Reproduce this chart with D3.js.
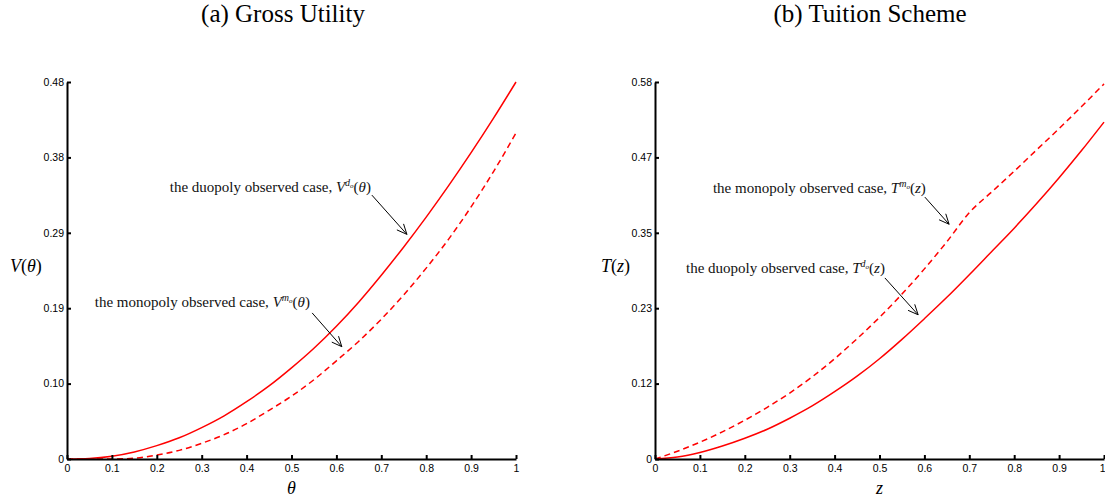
<!DOCTYPE html>
<html>
<head>
<meta charset="utf-8">
<script src="https://cdn.jsdelivr.net/npm/d3@7"></script>
<style>
  body { margin: 0; background: #fff; }
  svg { display: block; }
  .tick text { font-family: "Liberation Sans", Arial, sans-serif; font-size: 10.5px; fill: #000; }
  .domain, .tick line { stroke: #000; stroke-width: 2; }
</style>
</head>
<body>
<svg id="chart" width="1105" height="501"></svg>
<script>
// grid shared by every curve
const grid = [0, 0.05, 0.1, 0.15, 0.2, 0.25, 0.3, 0.35, 0.4, 0.45, 0.5,
              0.55, 0.6, 0.65, 0.7, 0.75, 0.8, 0.85, 0.9, 0.95, 1];

// (a) gross utility
const vDuopoly   = [0, 0.0007, 0.0035, 0.009, 0.017, 0.027, 0.040, 0.055, 0.073, 0.093, 0.116,
                    0.141, 0.169, 0.200, 0.234, 0.270, 0.308, 0.348, 0.390, 0.434, 0.480];
const vMonopoly  = [0, 0, 0, 0.001, 0.005, 0.011, 0.020, 0.031, 0.045, 0.062, 0.080,
                    0.101, 0.125, 0.150, 0.178, 0.209, 0.243, 0.280, 0.321, 0.366, 0.415];

// (b) tuition scheme
const tDuopoly   = [0, 0.003, 0.010, 0.020, 0.032, 0.046, 0.063, 0.082, 0.104, 0.128, 0.155,
                    0.185, 0.217, 0.250, 0.285, 0.321, 0.357, 0.395, 0.435, 0.477, 0.521];
const tMonopoly  = [0, 0.012, 0.026, 0.042, 0.060, 0.080, 0.102, 0.127, 0.155, 0.186, 0.219,
                    0.255, 0.294, 0.336, 0.381, 0.413, 0.445, 0.478, 0.511, 0.545, 0.580];

const xTicks      = [0, 0.1, 0.2, 0.3, 0.4, 0.5, 0.6, 0.7, 0.8, 0.9, 1];
const xTickLabels = ["0", "0.1", "0.2", "0.3", "0.4", "0.5", "0.6", "0.7", "0.8", "0.9", "1"];
const vTicks      = [0, 0.096, 0.192, 0.288, 0.384, 0.48];
const vTickLabels = ["0", "0.10", "0.19", "0.29", "0.38", "0.48"];
const tTicks      = [0, 0.1166, 0.2332, 0.3498, 0.4664, 0.583];
const tTickLabels = ["0", "0.12", "0.23", "0.35", "0.47", "0.58"];

const svg = d3.select("#chart");
const serif = "'Liberation Serif', 'Times New Roman', serif";

function panel(opt) {
  const x = d3.scaleLinear().domain([0, 1]).range([opt.left, opt.right]);
  const y = d3.scaleLinear().domain([0, opt.yMax]).range([459, 82]);
  const g = svg.append("g");

  // title
  g.append("text")
    .attr("x", opt.titleX).attr("y", 22)
    .attr("text-anchor", "middle")
    .style("font-family", serif).style("font-size", "25px")
    .text(opt.title);

  // curves
  const line = d3.line().x(d => x(d[0])).y(d => y(d[1])).curve(d3.curveMonotoneX);
  g.append("path")
    .datum(grid.map((t, i) => [t, opt.solid[i]]))
    .attr("d", line)
    .style("fill", "none").style("stroke", "#f00").style("stroke-width", 1.5);
  g.append("path")
    .datum(grid.map((t, i) => [t, opt.dashed[i]]))
    .attr("d", line)
    .style("fill", "none").style("stroke", "#f00").style("stroke-width", 1.5)
    .style("stroke-dasharray", "6,4");

  // axes (ticks pointing inward, matlab style)
  const xa = g.append("g")
    .attr("transform", "translate(0,459)")
    .call(d3.axisBottom(x).tickValues(xTicks)
      .tickFormat((d, i) => xTickLabels[i])
      .tickSizeInner(-4).tickSizeOuter(0).tickPadding(6));
  if (opt.right > 1100) {
    // keep the last label inside the page
    xa.selectAll(".tick:last-of-type text").attr("text-anchor", "end").attr("x", 1);
  }
  g.append("g")
    .attr("transform", "translate(" + opt.left + ",0)")
    .call(d3.axisLeft(y).tickValues(opt.yTicks)
      .tickFormat((d, i) => opt.yTickLabels[i])
      .tickSizeInner(-4).tickSizeOuter(0).tickPadding(3));

  // axis names
  g.append("text")
    .attr("x", (opt.left + opt.right) / 2).attr("y", 494)
    .attr("text-anchor", "middle")
    .style("font-family", serif).style("font-style", "italic").style("font-size", "18px")
    .text(opt.xName);
  const yl = g.append("text")
    .attr("x", opt.yNameX).attr("y", 272)
    .style("font-family", serif).style("font-size", "18px");
  yl.append("tspan").style("font-style", "italic").text(opt.yName[0]);
  yl.append("tspan").text("(");
  yl.append("tspan").style("font-style", "italic").text(opt.yName[1]);
  yl.append("tspan").text(")");

  // annotations with open arrow heads
  opt.notes.forEach(n => {
    const t = g.append("text")
      .attr("x", x(n.tx)).attr("y", y(n.ty))
      .attr("text-anchor", "end")
      .style("font-family", serif).style("font-size", "15px").style("fill", "#111");
    t.append("tspan").text(n.label);
    t.append("tspan").style("font-style", "italic").text(opt.yName[0]);
    t.append("tspan").style("font-style", "italic").style("font-size", "10px").attr("dy", -6).text(n.sup);
    t.append("tspan").style("font-style", "italic").style("font-size", "7px").attr("dy", 2).text("o");
    t.append("tspan").attr("dy", 4).text("(");
    t.append("tspan").style("font-style", "italic").text(opt.yName[1]);
    t.append("tspan").text(")");

    const x1 = x(n.from[0]), y1 = y(n.from[1]), x2 = x(n.to[0]), y2 = y(n.to[1]);
    const ang = Math.atan2(y2 - y1, x2 - x1);
    const head = 11, spread = 0.42;
    const path = d3.path();
    path.moveTo(x1, y1); path.lineTo(x2, y2);
    path.moveTo(x2 - head * Math.cos(ang - spread), y2 - head * Math.sin(ang - spread));
    path.lineTo(x2, y2);
    path.lineTo(x2 - head * Math.cos(ang + spread), y2 - head * Math.sin(ang + spread));
    g.append("path").attr("d", path.toString())
      .style("fill", "none").style("stroke", "#000").style("stroke-width", 1);
  });
}

panel({
  left: 67, right: 516, yMax: 0.48, yTicks: vTicks, yTickLabels: vTickLabels,
  title: "(a) Gross Utility", titleX: 283,
  solid: vDuopoly, dashed: vMonopoly,
  xName: "θ", yName: ["V", "θ"], yNameX: 10,
  notes: [
    { label: "the duopoly observed case, ", sup: "d", tx: 0.677, ty: 0.34,
      from: [0.679, 0.336], to: [0.757, 0.286] },
    { label: "the monopoly observed case, ", sup: "m", tx: 0.541, ty: 0.193,
      from: [0.546, 0.186], to: [0.612, 0.143] }
  ]
});

panel({
  left: 655, right: 1104, yMax: 0.583, yTicks: tTicks, yTickLabels: tTickLabels,
  title: "(b) Tuition Scheme", titleX: 870,
  solid: tDuopoly, dashed: tMonopoly,
  xName: "z", yName: ["T", "z"], yNameX: 601,
  notes: [
    { label: "the monopoly observed case, ", sup: "m", tx: 0.603, ty: 0.412,
      from: [0.601, 0.405], to: [0.655, 0.363] },
    { label: "the duopoly observed case, ", sup: "d", tx: 0.512, ty: 0.287,
      from: [0.512, 0.280], to: [0.586, 0.223] }
  ]
});
</script>
</body>
</html>
